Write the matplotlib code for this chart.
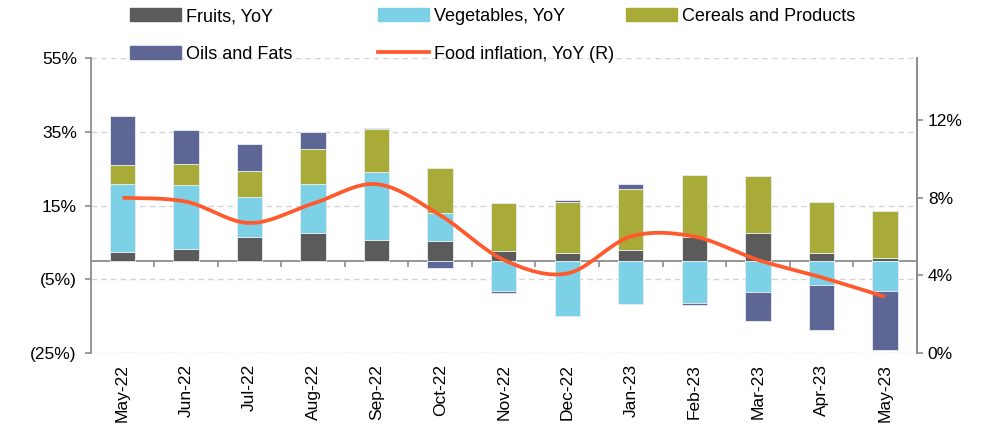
import numpy as np
import matplotlib
matplotlib.use('Agg')
from matplotlib import pyplot as plt
from matplotlib.patches import Patch
from matplotlib.lines import Line2D

plt.rcParams['font.family'] = ['Liberation Sans', 'DejaVu Sans']

months = ['May-22', 'Jun-22', 'Jul-22', 'Aug-22', 'Sep-22', 'Oct-22', 'Nov-22',
          'Dec-22', 'Jan-23', 'Feb-23', 'Mar-23', 'Apr-23', 'May-23']
fruits = [2.3, 3.1, 6.4, 7.5, 5.7, 5.3, 2.7, 2.1, 3.0, 6.4, 7.5, 2.2, 0.8]
vegetables = [18.4, 17.4, 10.9, 13.4, 18.4, 7.8, -8.1, -15.0, -11.6, -11.5, -8.4, -6.5, -8.1]
cereals = [5.4, 5.7, 7.0, 9.5, 11.6, 12.0, 13.1, 13.8, 16.4, 16.8, 15.4, 13.7, 12.7]
oils = [13.2, 9.4, 7.5, 4.6, 0.4, -2.0, -0.5, 0.5, 1.3, -0.5, -7.8, -12.3, -16.1]
food_infl = [8.0, 7.8, 6.7, 7.7, 8.7, 7.1, 4.8, 4.1, 6.0, 6.0, 4.8, 3.9, 2.9]

series = [('Fruits, YoY', fruits, '#5b5b5b'),
          ('Vegetables, YoY', vegetables, '#7dd1e6'),
          ('Cereals and Products', cereals, '#a8ab38'),
          ('Oils and Fats', oils, '#5e6696')]
line_col = '#ff5a2e'
grey = '#8c8c8c'


def smooth(x, y, n=20):
    # catmull-rom, close to excel's smoothed line
    x = np.asarray(x, float)
    y = np.asarray(y, float)
    px = np.r_[x[0], x, x[-1]]
    py = np.r_[y[0], y, y[-1]]
    xs, ys = [], []
    t = np.linspace(0, 1, n, endpoint=False)
    for i in range(1, len(px) - 2):
        for p, out in ((px, xs), (py, ys)):
            p0, p1, p2, p3 = p[i - 1], p[i], p[i + 1], p[i + 2]
            out.extend(0.5 * (2 * p1 + (-p0 + p2) * t + (2 * p0 - 5 * p1 + 4 * p2 - p3) * t ** 2
                              + (-p0 + 3 * p1 - 3 * p2 + p3) * t ** 3))
    xs.append(x[-1])
    ys.append(y[-1])
    return np.array(xs), np.array(ys)


fig = plt.figure(figsize=(9.86, 4.25), dpi=100)
ax = fig.add_axes([0.092, 0.1694, 0.8377, 0.6941])
x = np.arange(len(months))

pos = np.zeros(len(months))
neg = np.zeros(len(months))
for name, vals, col in series:
    v = np.array(vals)
    bottom = np.where(v >= 0, pos, neg)
    ax.bar(x, v, 0.4, bottom=bottom, color=col, edgecolor='#e8eef0', linewidth=0.6, zorder=2)
    pos = pos + np.where(v >= 0, v, 0)
    neg = neg + np.where(v < 0, v, 0)

ax.set_xlim(-0.5, len(months) - 0.5)
ax.set_ylim(-25, 55)
ax.set_yticks([-25, -5, 15, 35, 55])
ax.set_yticklabels(['(25%)', '(5%)', '15%', '35%', '55%'], fontsize=12.5)
ax.yaxis.grid(True, linestyle=(0, (4, 3)), color='#d4d4d4', linewidth=1.0)
ax.set_axisbelow(True)
ax.set_xticks(x)
ax.set_xticklabels(months, rotation=90, fontsize=12.5)
ax.tick_params(axis='x', length=0, pad=8)
ax.tick_params(axis='y', length=4, color=grey, width=1.2, pad=6)
for s in ['top', 'bottom']:
    ax.spines[s].set_visible(False)
for s in ['left', 'right']:
    ax.spines[s].set_color(grey)
    ax.spines[s].set_linewidth(1.3)

# zero line with category ticks
sec = ax.secondary_xaxis(25 / 80)
sec.set_xticks(x[:-1] + 0.5)
sec.xaxis.set_ticks_position('bottom')
sec.tick_params(length=4, color=grey, width=1.2, labelbottom=False, labeltop=False)
for s in sec.spines.values():
    s.set_color(grey)
    s.set_linewidth(1.3)

ax2 = ax.twinx()
sx, sy = smooth(x, food_infl)
ax2.plot(sx, sy, color=line_col, linewidth=2.7, solid_capstyle='butt')
ax2.set_ylim(0, 15.2)
ax2.set_yticks([0, 4, 8, 12])
ax2.set_yticklabels(['0%', '4%', '8%', '12%'], fontsize=12.5)
ax2.tick_params(axis='y', length=4, color=grey, width=1.2, pad=4)
for s in ['top', 'bottom', 'left']:
    ax2.spines[s].set_visible(False)
ax2.spines['right'].set_color(grey)
ax2.spines['right'].set_linewidth(1.3)

handles = [Patch(color=c) for _, _, c in series]
handles.append(Line2D([], [], color=line_col, linewidth=2.7))
labels = [n for n, _, _ in series] + ['Food inflation, YoY (R)']
cols = [([0, 3], 130), ([1, 4], 378), ([2], 626)]
for idx, px in cols:
    leg = fig.legend([handles[i] for i in idx], [labels[i] for i in idx],
                     loc='upper left', bbox_to_anchor=(px / 986, 1 - 8 / 425),
                     frameon=False, fontsize=13, handlelength=2.85, handleheight=0.75,
                     handletextpad=0.25, labelspacing=1.15, borderpad=0, borderaxespad=0)

fig.savefig('out.png', dpi=100)
